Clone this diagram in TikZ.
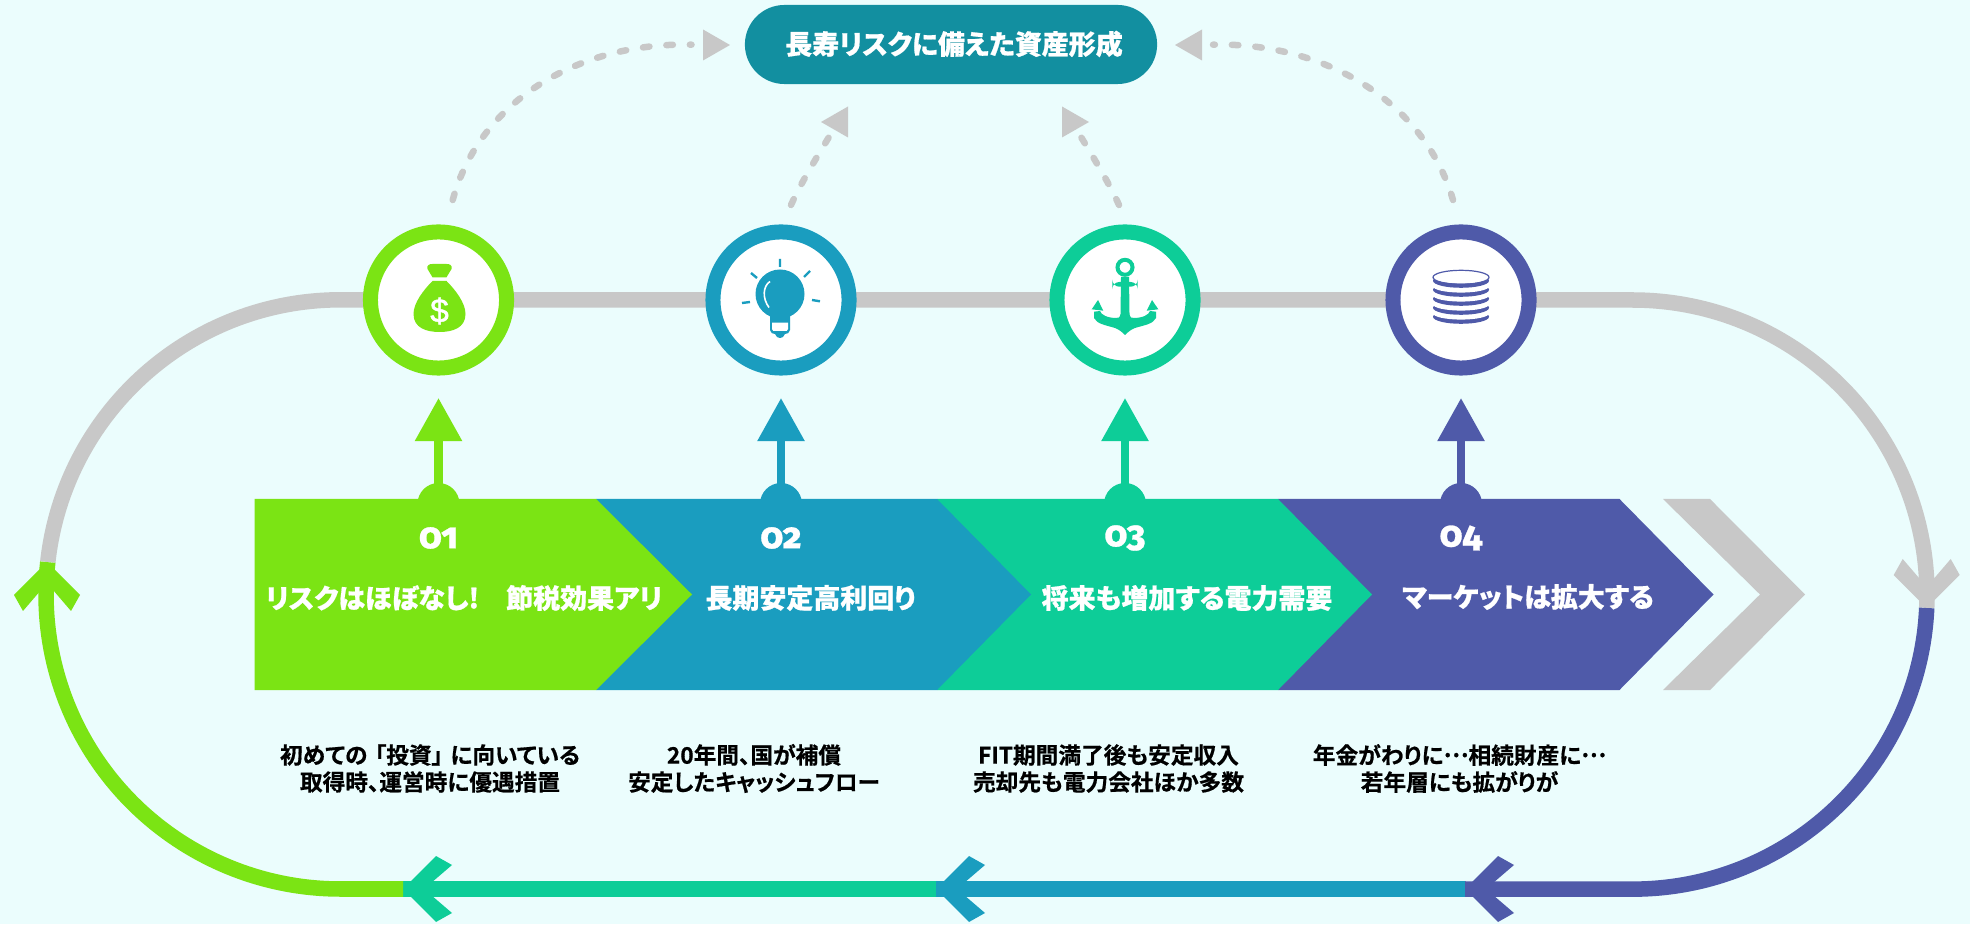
\documentclass[tikz,border=0pt]{standalone}
\usepackage{fontspec}
\usepackage{xcolor}
\usetikzlibrary{arrows.meta}
\newfontfamily\jpheavy{Noto Sans CJK JP Black}[RawFeature=+palt,FakeBold=0.7]
\newfontfamily\jpbold{Noto Sans CJK JP Bold}[RawFeature=+palt,FakeBold=0.6]
\newfontfamily\numfont{Fira Sans}[Numbers=OldStyle,BoldFont={Fira Sans ExtraBold},BoldFeatures={FakeBold=0.8}]
\newfontfamily\dollarfont{Liberation Sans}[FakeBold=1.2]
\newcommand{\jpdots}{\raisebox{0.3em}{…}}
\definecolor{cbg}{HTML}{EBFDFD}
\definecolor{cgreen}{HTML}{7BE414}
\definecolor{cblue}{HTML}{1A9DBF}
\definecolor{cteal}{HTML}{0DCD98}
\definecolor{cindigo}{HTML}{4F5AA9}
\definecolor{cgrey}{HTML}{C8C8C8}
\definecolor{cgoal}{HTML}{128FA0}
\tikzset{etrack/.style={line width=0.155cm}}
\tikzset{edash/.style={cgrey,line width=0.065cm,line cap=round,dash pattern=on 0.065cm off 0.17cm}}
\tikzset{estem/.style={line width=0.087cm,-{Triangle[length=0.43cm,width=0.45cm]}}}
\tikzset{eicon/.style={circle,fill=white,line width=0.15cm,minimum size=1.36cm,inner sep=0pt}}
\tikzset{etitle/.style={text=white,inner sep=0pt,font=\jpheavy\fontsize{7.67}{9}\selectfont}}
\tikzset{enum/.style={text=white,inner sep=0pt,font=\numfont\bfseries\fontsize{10.2}{12}\selectfont}}
\tikzset{enote/.style={text=black,inner sep=0pt,align=center,font=\jpbold\fontsize{6.45}{7.68}\selectfont}}
\tikzset{barb/.pic={\path[pic actions] (0,0) -- (33,33) -- (49,24) -- (21,0) -- (49,-24) -- (33,-33) -- cycle;}}
\tikzset{headtri/.pic={\fill[cgrey] (0,0) -- (27,15.5) -- (27,-15.5) -- cycle;}}
\tikzset{moneybag/.pic={
    \fill[cgreen] (-6,22.7) -- (-11,31) .. controls (-12,35) and (-9,36) .. (-6,36) -- (8,36) .. controls (11,36) and (14,35) .. (13,31) -- (8,22.7) -- cycle;
    \fill[cgreen] (-6,19) .. controls (-15,10) and (-25,-3) .. (-25,-14) .. controls (-25,-28) and (-12,-32) .. (1,-32) .. controls (14,-32) and (27,-28) .. (27,-14) .. controls (27,-3) and (17,10) .. (8,19) -- cycle;
    \node[text=white,inner sep=0pt,font=\dollarfont\fontsize{9.5}{10}\selectfont] (dollar) at (1,-11) {\$};
}}
\tikzset{bulb/.pic={
    \fill[cblue] (-1,6) circle (24.5);
    \fill[cblue] (-11,-12) -- (-11,-30) .. controls (-11,-33) and (-8,-34) .. (-6,-34) .. controls (-5,-37) and (-3,-38) .. (-1,-38) .. controls (1,-38) and (3,-37) .. (4,-34) .. controls (6,-34) and (9,-33) .. (9,-30) -- (9,-12) -- cycle;
    \fill[white] (-9,-22.7) -- (7,-22.7) -- (7,-29) .. controls (7,-31) and (5,-31) .. (4,-31) -- (-6,-31) .. controls (-7,-31) and (-9,-31) .. (-9,-29) -- cycle;
    \draw[white,line width=0.016cm] (-11,18.5) .. controls (-18,14) and (-19,2) .. (-12,-7.5);
    \draw[cblue,line width=0.024cm] (-1,41) -- (-1,33) (-30,27) -- (-24,22) (29,29) -- (23,23) (-39,-3) -- (-31,-2) (31,0) -- (39,-1.3);
}}
\tikzset{anchorsign/.pic={
    \draw[cteal,line width=0.04cm] (0,32.7) circle (7.5);
    \fill[cteal,rounded corners=2] (-12.7,18) rectangle (12.7,13.3);
    \fill[cteal] (-4,23) -- (4,23) -- (4.5,-14) .. controls (5,-18) and (7,-18) .. (9,-18) .. controls (17,-18) and (24,-15) .. (25,-11) -- (31,-11.7) -- (31,-18) .. controls (28,-24) and (20,-25) .. (10,-28) .. controls (6,-29.5) and (3,-32) .. (0,-35) .. controls (-3,-32) and (-6,-29.5) .. (-10,-28) .. controls (-20,-25) and (-28,-24) .. (-31,-18) -- (-31,-11.7) -- (-25,-11) .. controls (-24,-15) and (-17,-18) .. (-9,-18) .. controls (-7,-18) and (-5,-18) .. (-4.5,-14) -- cycle;
    \fill[cteal] (-27,0) -- (-33.3,-9.3) -- (-21.7,-10.7) -- cycle;
    \fill[cteal] (27,0) -- (33.3,-9.3) -- (21.7,-10.7) -- cycle;
}}
\tikzset{coinstack/.pic={
    \foreach \y in {-13.3,-4.3,4.7,13.7,22.7}{
        \fill[cindigo] (0,\y-3.5) ellipse [x radius=28,y radius=7];
        \fill[white] (0,\y) ellipse [x radius=28,y radius=6.3];
    }
    \draw[cindigo,line width=0.012cm] (0,22.7) ellipse [x radius=28,y radius=7];
}}
\begin{document}
\begin{tikzpicture}[x=0.01cm,y=0.01cm]
    \fill[cbg] (0,0) rectangle (1970,924);
    \useasboundingbox (0,0) rectangle (1970,924);
    % track coordinates
    \coordinate (greyS) at (47.8,362);
    \coordinate (greyE) at (1926.7,316);
    \coordinate (tipA) at (1465,35);
    \coordinate (tipB) at (936,35);
    \coordinate (tipC) at (403,35);
    % draw the track
    \draw[etrack,cgrey] (greyS) arc[start angle=173.7,end angle=90,radius=294.5] -- (1632.5,624) arc[start angle=90,end angle=-2.6,radius=294.5];
    \draw[etrack,cindigo] (greyE) arc[start angle=-2.6,end angle=-90,radius=294.5] -- (tipA);
    \draw[etrack,cblue] (tipA) -- (tipB);
    \draw[etrack,cteal] (tipB) -- (tipC);
    \draw[etrack,cgreen] (tipC) -- (340.5,35) arc[start angle=270,end angle=173.7,radius=294.5];
    \pic[fill=cgrey,rotate=90] at (greyE) {barb};
    \pic[fill=cindigo] at (tipA) {barb};
    \pic[fill=cblue] at (tipB) {barb};
    \pic[fill=cteal] at (tipC) {barb};
    \pic[fill=cgreen,rotate=-90] at (47,362) {barb};
    % draw the goal and the dashed curves
    \node[fill=cgoal,rounded corners=0.395cm,minimum width=4.12cm,minimum height=0.79cm,inner sep=0pt] (goal) at (951,879.5) {};
    \node[etitle] (goaltext) at (954,880) {長寿リスクに備えた資産形成};
    \coordinate (dashA) at (452.7,724);
    \coordinate (dashB) at (791,719);
    \coordinate (dashC) at (1119,719);
    \coordinate (dashD) at (1453,724);
    \coordinate (endA) at (691.5,879.3);
    \coordinate (endB) at (829,787);
    \coordinate (endC) at (1081,787);
    \coordinate (endD) at (1213,879.3);
    \draw[edash] (dashA) .. controls (480,824) and (580,882) .. (endA);
    \draw[edash] (dashB) .. controls (800,739) and (815,764) .. (endB);
    \draw[edash] (dashC) .. controls (1110,739) and (1095,764) .. (endC);
    \draw[edash] (dashD) .. controls (1424,824) and (1322,882) .. (endD);
    \pic[rotate=180] at (730,879) {headtri};
    \pic at (821,802) {headtri};
    \pic[rotate=180] at (1089,802) {headtri};
    \pic at (1175,879) {headtri};
    % draw the chevrons (last one first)
    \fill[cgrey] (1663,425) -- (1710,425) -- (1805,329.5) -- (1710,234) -- (1663,234) -- (1760,329.5) -- cycle;
    \foreach \xl/\xr/\col in {1278/1619.5/cindigo,937/1278/cteal,596/937/cblue}{
        \fill[\col] (\xl,425) -- (\xr,425) -- (\xr+94,329.5) -- (\xr,234) -- (\xl,234) -- cycle;
    }
    \fill[cgreen] (254.5,425) -- (596,425) -- (692,329.5) -- (596,234) -- (254.5,234) -- cycle;
    % draw the circles, stems and numbers
    \foreach \i/\xc/\col/\txt in {1/438.5/cgreen/01,2/781/cblue/02,3/1125/cteal/03,4/1461/cindigo/04}{
        \node[eicon,draw=\col] (icon\i) at (\xc,624) {};
        \coordinate (base\i) at (\xc,430);
        \coordinate (tip\i) at (\xc,526);
        \fill[\col] (\xc,420) circle (21);
        \draw[estem,\col] (base\i) -- (tip\i);
        \node[enum] (num\i) at (\xc,386) {\txt};
    }
    \pic at (icon1) {moneybag};
    \pic at (icon2) {bulb};
    \pic at (icon3) {anchorsign};
    \pic at (icon4) {coinstack};
    % draw the texts
    \node[etitle] (title1) at (464,326) {リスクはほぼなし!　節税効果アリ};
    \node[etitle] (title2) at (810.5,326) {長期安定高利回り};
    \node[etitle] (title3) at (1187,326) {将来も増加する電力需要};
    \node[etitle] (title4) at (1528,327) {マーケットは拡大する};
    \node[enote] (note1) at (430,155.5) {初めての\kern0.075cm「投資」\kern0.075cm に向いている\\取得時、運営時に優遇措置};
    \node[enote] (note2) at (754,155.5) {20年間、国が補償\\安定したキャッシュフロー};
    \node[enote] (note3) at (1108.5,155.5) {FIT期間満了後も安定収入\\売却先も電力会社ほか多数};
    \node[enote] (note4) at (1459.5,155.5) {年金がわりに\jpdots 相続財産に\jpdots\\若年層にも拡がりが};
\end{tikzpicture}
\end{document}
